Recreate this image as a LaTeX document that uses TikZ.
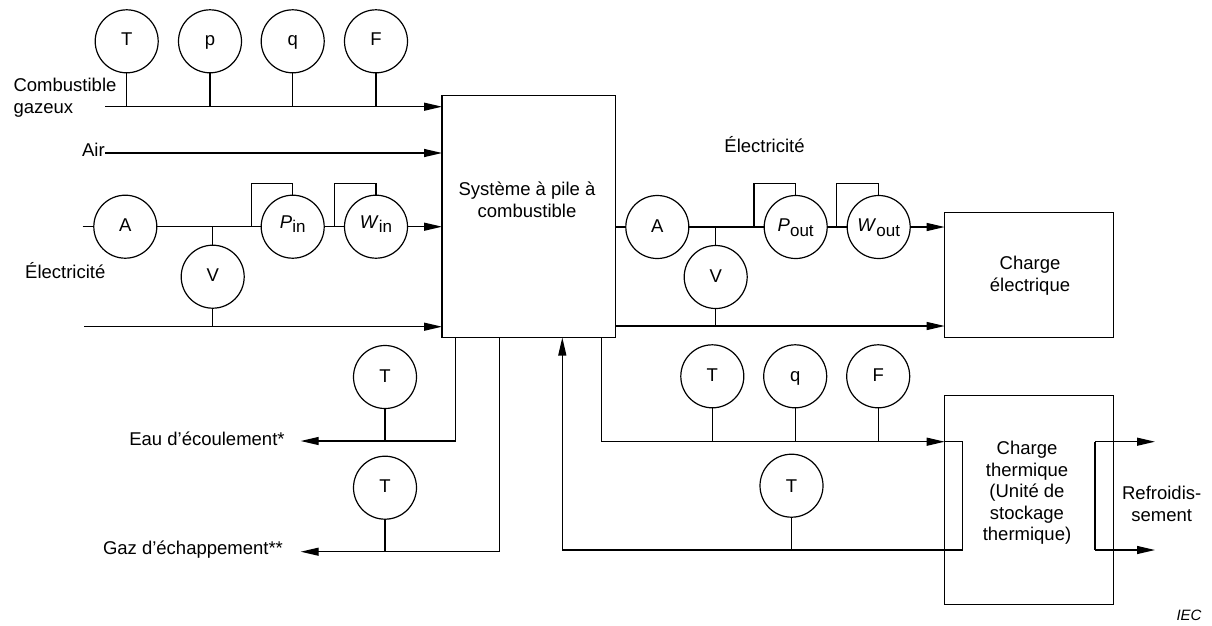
\documentclass[tikz,border=0pt]{standalone}
\usepackage{fontspec}
\setmainfont{Liberation Sans}
\usetikzlibrary{arrows.meta, calc}
\newcommand{\meas}[2]{\textit{#1}\raisebox{-0.45ex}{\fontsize{17}{20}\selectfont #2}}

\begin{document}
\begin{tikzpicture}[x=1pt, y=-1pt, line width=1.2pt,
            font=\fontsize{18.5}{21.6}\selectfont,
            m/.style={circle, draw, minimum size=63pt, inner sep=0pt, outer sep=0pt, text height=10pt, text depth=0pt},
            box/.style={rectangle, draw, inner sep=0pt, outer sep=0pt},
            lbl/.style={inner sep=0pt, align=center},
            flow/.style={-{Triangle[length=18pt, width=8pt]}}]
            \useasboundingbox (0,0) rectangle (1212,625);
            % blocks
            \node[box, minimum width=173.3pt, minimum height=242pt] (sys) at (528.7,216.5) {};
            \node[box, minimum width=168.6pt, minimum height=124.6pt] (load) at (1029,275) {};
            \node[box, minimum width=168.6pt, minimum height=208.6pt] (therm) at (1029,500) {};
            % meters, inlet side
            \node[m, text height=7.4pt] (mT) at (126.7,41.3) {T};
            \node[m, text height=7.4pt] (mp) at (210,41.3) {p};
            \node[m, text height=7.4pt] (mq) at (292.7,41.3) {q};
            \node[m, text height=7.4pt] (mF) at (376,41.3) {F};
            \node[m] (mA) at (125.3,226.7) {A};
            \node[m] (mV) at (212.7,276.7) {V};
            \node[m, text height=3.2pt] (mP) at (292.7,226.7) {\meas{P}{in}};
            \node[m, text height=3.2pt] (mW) at (376,226.7) {\meas{W}{in}};
            % meters, outlet side
            \node[m] (nA) at (657.3,227) {A};
            \node[m] (nV) at (715.7,277) {V};
            \node[m, text height=9.4pt] (nP) at (795.7,227) {\meas{P}{out}};
            \node[m, text height=9.4pt] (nW) at (878.7,227) {\meas{W}{out}};
            \node[m] (tT) at (712.3,376.3) {T};
            \node[m] (tq) at (795.2,376.3) {q};
            \node[m] (tF) at (878.2,376.3) {F};
            \node[m, text height=13pt] (tR) at (791.5,485.7) {T};
            \node[m] (eT) at (385,377) {T};
            \node[m] (gT) at (385,487.7) {T};
            % free ends and taps
            \coordinate (gasIn) at (105.3,106.7);
            \coordinate (airIn) at (105.3,153);
            \coordinate (elIn) at (82.7,226.7);
            \coordinate (elRet) at (84,326.7);
            \coordinate (eauOut) at (300.7,441);
            \coordinate (gazOut) at (300.7,551.7);
            \coordinate (coolA) at (1155,441.7);
            \coordinate (coolB) at (1155,550);
            \coordinate (coolA0) at (1095,441.7);
            \coordinate (coolB0) at (1095,550);
            \coordinate (pTop) at (251.7,183.7);
            \coordinate (pTap) at (251.7,226.7);
            \coordinate (wTop) at (334.3,183.7);
            \coordinate (wTap) at (334.3,226.7);
            \coordinate (qTop) at (754,183.7);
            \coordinate (qTap) at (754,227);
            \coordinate (vTop) at (836.3,183.7);
            \coordinate (vTap) at (836.3,227);
            \coordinate (retOut) at (615.4,326);
            \coordinate (eauTap) at (455.3,337.5);
            \coordinate (gazTap) at (499.7,337.5);
            \coordinate (heatTap) at (601.7,337.5);
            \coordinate (backTip) at (562.3,337.5);
            \coordinate (backLow) at (562.3,550);
            \coordinate (heatIn) at (962.7,441.7);
            \coordinate (heatLow) at (962.7,550);
            % inlets
            \draw[flow] (gasIn) -- (gasIn -| sys.west);
            \draw[flow] (airIn) -- (airIn -| sys.west);
            \draw (mT) -- (mT |- gasIn);
            \draw (mp) -- (mp |- gasIn);
            \draw (mq) -- (mq |- gasIn);
            \draw (mF) -- (mF |- gasIn);
            \draw (elIn) -- (mA);
            \draw (mA) -- (mP);
            \draw (mP) -- (mW);
            \draw[flow] (mW) -- (mW -| sys.west);
            \draw (mV) -- (mV |- mA);
            \draw[flow] (elRet) -- (elRet -| sys.west);
            \draw (mV) -- (mV |- elRet);
            \draw (pTap) -- (pTop) -| (mP);
            \draw (wTap) -- (wTop) -| (mW);
            % outlets
            \draw (sys.east |- nA) -- (nA);
            \draw (nA) -- (nP);
            \draw (nP) -- (nW);
            \draw[flow] (nW) -- (nW -| load.west);
            \draw (nV) -- (nV |- nA);
            \draw[flow] (retOut) -- (retOut -| load.west);
            \draw (nV) -- (nV |- retOut);
            \draw (qTap) -- (qTop) -| (nP);
            \draw (vTap) -- (vTop) -| (nW);
            % water and exhaust
            \draw[flow] (eauTap) |- (eauOut);
            \draw[flow] (gazTap) |- (gazOut);
            \draw (eT) -- (eT |- eauOut);
            \draw (gT) -- (gT |- gazOut);
            % heat loop
            \draw[flow] (heatTap) |- (therm.west |- heatIn);
            \draw (therm.west |- heatIn) -- (heatIn) -- (heatLow) -- (backLow);
            \draw[flow] (backLow) -- (backTip);
            \draw (tT) -- (tT |- heatIn);
            \draw (tq) -- (tq |- heatIn);
            \draw (tF) -- (tF |- heatIn);
            \draw (tR) -- (tR |- backLow);
            \draw[flow] (coolA0) -- (coolA);
            \draw[flow] (coolB0) -- (coolB);
            \draw (coolA0) -- (coolB0);
            % texts
            \node[lbl, align=left, anchor=west] (tGas) at (13,98) {Combustible\\gazeux};
            \node[lbl, anchor=east] (tAir) at (105.3,150) {Air};
            \node[lbl] (tElL) at (65.3,271) {Électricité};
            \node[lbl] (tElR) at (764.5,145) {Électricité};
            \node[lbl] (tSys) at (527,200) {Système à pile à\\combustible};
            \node[lbl] (tLoad) at (1030,276) {Charge\\électrique};
            \node[lbl] (tTherm) at (1027,493) {Charge\\thermique\\(Unité de\\stockage\\thermique)};
            \node[lbl] (tCool) at (1161.7,504) {Refroidis-\\sement};
            \node[lbl] (tEau) at (207,439) {Eau d’écoulement*};
            \node[lbl] (tGaz) at (193,550) {Gaz d’échappement**};
            \node[lbl, font=\fontsize{15}{18}\selectfont\itshape] (tIEC) at (1189,615) {IEC};
        \end{tikzpicture}
\end{document}
